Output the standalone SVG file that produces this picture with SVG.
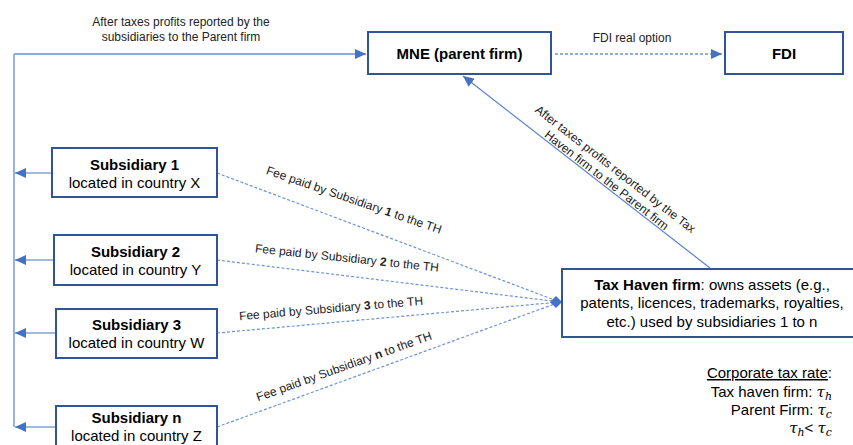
<svg xmlns="http://www.w3.org/2000/svg" width="853" height="445" viewBox="0 0 853 445">
<style>
.box{fill:#fff;stroke:#2F5597;stroke-width:2}
.t{font-family:"Liberation Sans",Arial,sans-serif;fill:#000}
.b15{font-size:15px;font-weight:bold}
.n15{font-size:15px}
.s12{font-size:12px;fill:#222}
.solid{fill:none;stroke:#4472C4;stroke-width:1.2}
.light{fill:none;stroke:#8FAADC;stroke-width:1.8}
.dash{fill:none;stroke:#6F93D4;stroke-width:1.2;stroke-dasharray:3 2}
.m{font-family:"DejaVu Serif","Liberation Serif",serif;font-style:italic}
</style>
<defs>
<marker id="ah" markerUnits="userSpaceOnUse" markerWidth="12" markerHeight="10" refX="11" refY="5" orient="auto">
<path d="M0,0 L11,5 L0,10 Z" fill="#4472C4"/>
</marker>
</defs>
<rect width="853" height="445" fill="#fff"/>

<g id="connectors">
<path class="light" d="M14,54 V427"/>
<path class="light" d="M14,54 H366" marker-end="url(#ah)"/>
<path class="solid" d="M52,173 H15" marker-end="url(#ah)"/>
<path class="solid" d="M54,260 H15" marker-end="url(#ah)"/>
<path class="solid" d="M56,333 H15" marker-end="url(#ah)"/>
<path class="solid" d="M56,427 H15" marker-end="url(#ah)"/>
<path class="dash" d="M555,54 H722" marker-end="url(#ah)" style="stroke-width:1.6"/>
<path class="solid" d="M710,268 L463,76" marker-end="url(#ah)" style="stroke:#5B82CC"/>
<path class="dash" d="M217,173 L560,302"/>
<path class="dash" d="M217,260 L560,302"/>
<path class="dash" d="M217,333 L560,302"/>
<path class="dash" d="M217,427 L560,302"/>
<path d="M550,302 L556,296 L562,302 L556,308 Z" fill="#4472C4"/>
<text class="t s12" x="181" y="26" text-anchor="middle">After taxes profits reported by the</text>
<text class="t s12" x="181" y="41" text-anchor="middle">subsidiaries to the Parent firm</text>
<text class="t s12" x="632" y="42" text-anchor="middle">FDI real option</text>
<g transform="translate(603,185) rotate(37.9)">
<text class="t s12" x="0" y="-16" text-anchor="middle">After taxes profits reported by the Tax</text>
<text class="t s12" x="0" y="-2" text-anchor="middle">Haven firm to the Parent firm</text>
</g>
<text class="t s12" transform="translate(354,200) rotate(19)" x="0" y="4" text-anchor="middle">Fee paid by Subsidiary <tspan font-weight="bold">1</tspan> to the TH</text>
<text class="t s12" transform="translate(347,258) rotate(6)" x="0" y="4" text-anchor="middle">Fee paid by Subsidiary <tspan font-weight="bold">2</tspan> to the TH</text>
<text class="t s12" transform="translate(331,308.5) rotate(-4.8)" x="0" y="4" text-anchor="middle">Fee paid by Subsidiary <tspan font-weight="bold">3</tspan> to the TH</text>
<text class="t s12" transform="translate(344,366.5) rotate(-19.6)" x="0" y="4" text-anchor="middle">Fee paid by Subsidiary <tspan font-weight="bold">n</tspan> to the TH</text>
</g>

<g id="mne">
<rect class="box" x="368" y="32" width="183" height="42"/>
<text class="t b15" x="459.5" y="59" text-anchor="middle">MNE (parent firm)</text>
</g>
<g id="fdi">
<rect class="box" x="725" y="32" width="118" height="42"/>
<text class="t b15" x="784" y="59" text-anchor="middle">FDI</text>
</g>
<g id="sub1">
<rect class="box" x="52" y="148" width="165" height="49"/>
<text class="t b15" x="134.5" y="170" text-anchor="middle">Subsidiary 1</text>
<text class="t n15" x="134.5" y="188" text-anchor="middle">located in country X</text>
</g>
<g id="sub2">
<rect class="box" x="54" y="235" width="163" height="50"/>
<text class="t b15" x="135.5" y="257" text-anchor="middle">Subsidiary 2</text>
<text class="t n15" x="135.5" y="275" text-anchor="middle">located in country Y</text>
</g>
<g id="sub3">
<rect class="box" x="56" y="309" width="161" height="49"/>
<text class="t b15" x="136.5" y="330" text-anchor="middle">Subsidiary 3</text>
<text class="t n15" x="136.5" y="348" text-anchor="middle">located in country W</text>
</g>
<g id="subn">
<rect class="box" x="56" y="406" width="161" height="50"/>
<text class="t b15" x="136.5" y="423" text-anchor="middle">Subsidiary n</text>
<text class="t n15" x="136.5" y="441" text-anchor="middle">located in country Z</text>
</g>
<g id="taxhaven">
<rect class="box" x="562" y="269" width="300" height="68"/>
<text class="t n15" x="712" y="290" text-anchor="middle"><tspan font-weight="bold">Tax Haven firm</tspan>: owns assets (e.g.,</text>
<text class="t n15" x="712" y="308" text-anchor="middle">patents, licences, trademarks, royalties,</text>
<text class="t n15" x="712" y="327" text-anchor="middle">etc.) used by subsidiaries 1 to n</text>
</g>
<g id="taxrate">
<text class="t n15" x="832" y="378" text-anchor="end"><tspan text-decoration="underline">Corporate tax rate</tspan>:</text>
<text class="t n15" x="832" y="397" text-anchor="end">Tax haven firm: <tspan class="m">τ</tspan><tspan class="m" font-size="11" dy="3">h</tspan></text>
<text class="t n15" x="832" y="415" text-anchor="end">Parent Firm: <tspan class="m">τ</tspan><tspan class="m" font-size="11" dy="3">c</tspan></text>
<text class="t n15" x="832" y="433" text-anchor="end"><tspan class="m">τ</tspan><tspan class="m" font-size="11" dy="3">h</tspan><tspan dy="-3">&lt; </tspan><tspan class="m">τ</tspan><tspan class="m" font-size="11" dy="3">c</tspan></text>
</g>
</svg>
